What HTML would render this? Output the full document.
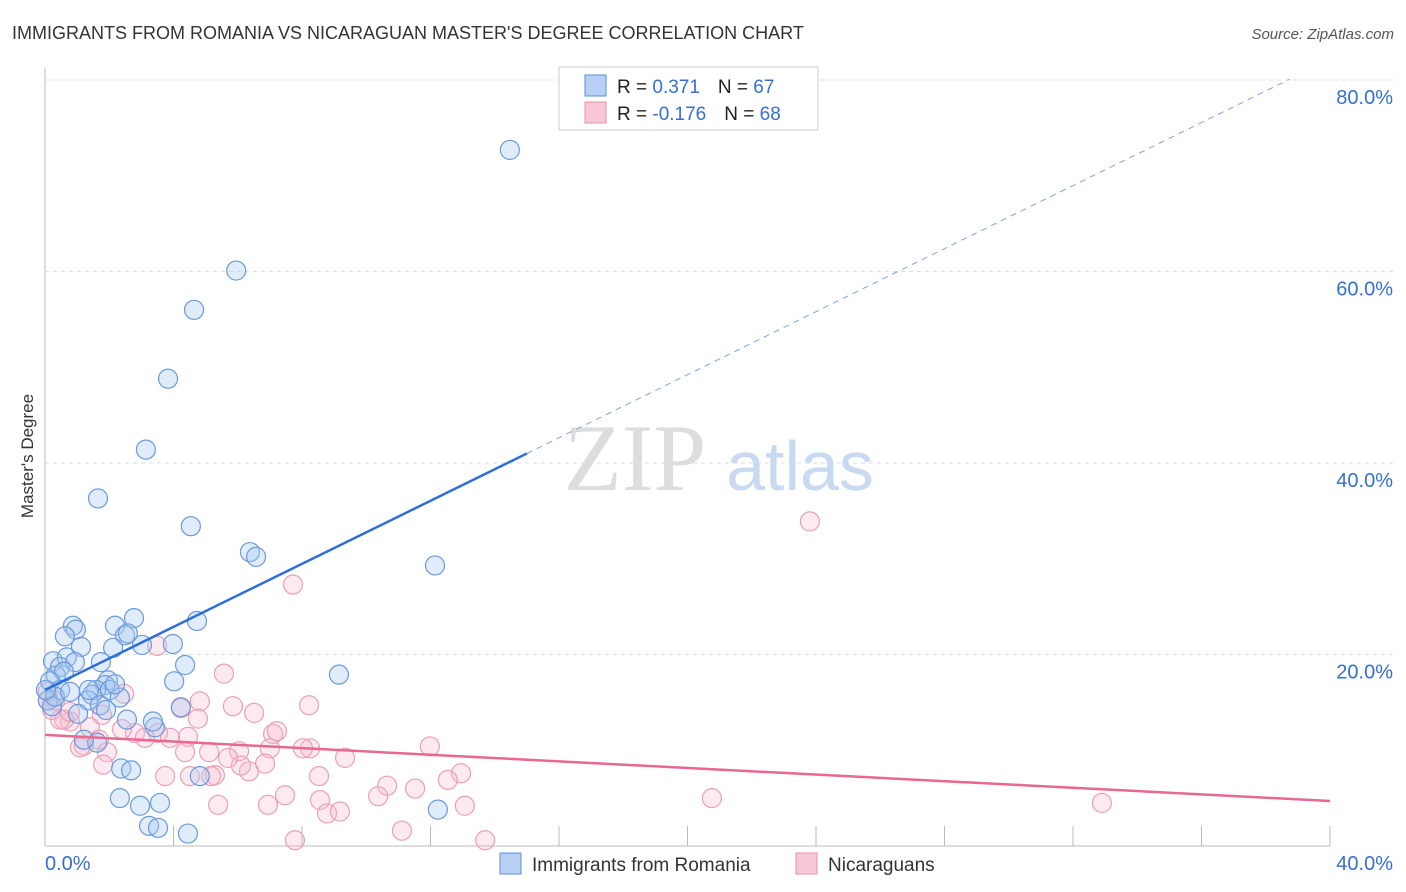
<!DOCTYPE html>
<html><head><meta charset="utf-8"><style>
body{margin:0;background:#fff;font-family:"Liberation Sans",sans-serif;}
svg{display:block}
</style></head><body>
<svg id="chart" width="1406" height="892" font-family="Liberation Sans, sans-serif">
<text x="12" y="39" font-size="18" fill="#333">IMMIGRANTS FROM ROMANIA VS NICARAGUAN MASTER'S DEGREE CORRELATION CHART</text>
<text x="1394" y="39" font-size="15" fill="#555" text-anchor="end" font-style="italic">Source: ZipAtlas.com</text>
<text transform="translate(33,456) rotate(-90)" font-size="17" fill="#333" text-anchor="middle">Master's Degree</text>
<g id="grid"></g>
<g><text x="635" y="490" font-size="95" fill="#ddd" text-anchor="middle" font-family="Liberation Serif, serif">ZIP</text><text x="800" y="490" font-size="70" fill="#c8daf2" text-anchor="middle">atlas</text></g>
<g id="pts"></g>
<g id="lines"></g>
<g>
<rect x="559" y="67" width="259" height="63" fill="#fff" stroke="#ccc"/>
<rect x="585" y="75" width="21" height="21" fill="#b7d0f3" stroke="#5b8fd8"/>
<rect x="585" y="102" width="21" height="21" fill="#f9c8d6" stroke="#e890a8"/>
<text x="617" y="93" font-size="19" fill="#222">R = <tspan fill="#3570d0"> 0.371</tspan><tspan dx="18">N = </tspan><tspan fill="#3570d0">67</tspan></text>
<text x="617" y="120" font-size="19" fill="#222">R = <tspan fill="#3570d0">-0.176</tspan><tspan dx="18">N = </tspan><tspan fill="#3570d0">68</tspan></text>
</g>
<g>
<rect x="500" y="853" width="21" height="21" fill="#b7d0f3" stroke="#5b8fd8"/>
<text x="532" y="871" font-size="19" fill="#333">Immigrants from Romania</text>
<rect x="796" y="853" width="21" height="21" fill="#f9c8d6" stroke="#e890a8"/>
<text x="828" y="871" font-size="19" fill="#333">Nicaraguans</text>
</g>
</svg>
<script>
const blueX=[14.47,5.95,4.64,3.83,3.14,1.65,4.54,6.38,6.57,12.14,4.73,2.77,2.18,0.87,0.96,0.62,2.49,2.58,1.12,2.12,3.98,3.02,4.36,1.74,0.25,0.68,0.47,0.93,9.15,4.02,1.96,1.87,1.59,0.34,0.59,0.16,0.47,1.46,1.34,2.02,2.33,1.71,1.90,4.23,1.03,0.09,0.22,2.55,3.42,1.62,1.21,2.37,2.68,2.33,2.96,3.58,12.23,3.24,3.52,4.45,4.82,0.31,0.78,0.03,1.37,3.36,2.18];
const blueY=[72.7,60.1,56.0,48.8,41.4,36.3,33.4,30.7,30.2,29.3,23.5,23.8,23.0,23.0,22.6,21.9,22.0,22.2,20.8,20.7,21.1,21.0,18.9,19.2,19.3,19.7,18.7,19.2,17.9,17.2,17.3,16.8,16.3,17.8,18.2,17.2,16.3,15.8,15.2,16.3,15.5,14.7,14.2,14.5,13.8,15.2,14.6,13.2,12.4,10.8,11.1,8.1,7.9,5.0,4.2,4.5,3.8,2.1,1.9,1.3,7.3,15.6,16.1,16.3,16.3,13.0,16.9];
const pinkX=[23.81,7.72,3.49,5.57,4.82,2.46,5.85,6.51,8.22,4.76,4.23,0.78,0.09,0.31,0.59,1.40,1.77,2.80,3.11,3.52,3.89,4.45,4.36,5.11,6.04,7.10,7.22,7.00,8.25,8.03,9.34,11.98,12.95,12.54,10.65,10.37,11.52,8.53,6.85,6.35,6.10,5.70,5.29,5.17,4.51,3.74,1.93,1.68,1.21,1.81,1.09,0.47,0.22,0.78,5.39,6.94,7.47,8.56,8.78,9.18,13.07,11.11,7.78,13.70,20.76,32.90,0.09,2.40];
const pinkY=[33.9,27.3,20.9,18.0,15.1,15.9,14.6,13.9,14.7,13.3,14.4,13.0,16.1,15.2,13.2,12.4,13.7,11.8,11.3,11.8,11.3,11.4,9.8,9.8,9.9,11.7,12.0,10.2,10.2,10.2,9.2,10.4,7.6,6.9,6.3,5.2,6.0,7.3,8.6,7.8,8.4,9.2,7.4,7.3,7.3,7.3,9.8,11.1,10.5,8.5,10.3,13.2,14.2,14.0,4.3,4.3,5.3,4.8,3.4,3.6,4.2,1.6,0.6,0.6,5.0,4.5,15.2,12.2];
const yTicks=[20,40,60,80];
const yTickLabels=["20.0%","40.0%","60.0%","80.0%"];
const xTicks=[0,4,8,12,16,20,24,28,32,36,40];
const blueTrend=[16.3,1.646];
const pinkTrend=[11.6,-0.1725];
const NS="http://www.w3.org/2000/svg";
const sx=v=>45+v*32.125, sy=v=>846-v*9.575;
function mk(t,a,p){const e=document.createElementNS(NS,t);for(const k in a)e.setAttribute(k,a[k]);p.appendChild(e);return e;}
const grid=document.getElementById('grid');
mk('line',{x1:45,y1:68,x2:45,y2:846,stroke:'#bbb'},grid);
mk('line',{x1:45,y1:846,x2:1330,y2:846,stroke:'#bbb'},grid);
yTicks.forEach((v,i)=>{
  const l=mk('line',{x1:45,y1:sy(v),x2:1394,y2:sy(v),stroke:'#ddd','stroke-dasharray':'4,4'},grid);
  
  
  const t=mk('text',{x:1393,y:sy(v)+24,'font-size':20,fill:'#3570d0','text-anchor':'end'},grid);
  t.textContent=yTickLabels[i];
  
  
});
xTicks.forEach(v=>{
  const l=mk('line',{x1:sx(v),y1:826,x2:sx(v),y2:846,stroke:'#bbb'},grid);
  
  
});
let t=mk('text',{x:45,y:870,'font-size':20,fill:'#3570d0'},grid);t.textContent='0.0%';


t=mk('text',{x:1393,y:870,'font-size':20,fill:'#3570d0','text-anchor':'end'},grid);t.textContent='40.0%';


const pts=document.getElementById('pts');
pinkX.forEach((x,i)=>{const c=mk('circle',{cx:sx(x),cy:sy(pinkY[i]),r:9.5,fill:'rgba(248,185,205,0.3)',stroke:'#eb9fb6','stroke-width':1.2},pts);
  
  });
blueX.forEach((x,i)=>{const c=mk('circle',{cx:sx(x),cy:sy(blueY[i]),r:9.5,fill:'rgba(165,200,242,0.35)',stroke:'#6a9ade','stroke-width':1.2},pts);
  
  });
const lines=document.getElementById('lines');
const bf=x=>blueTrend[0]+blueTrend[1]*x, pf=x=>pinkTrend[0]+pinkTrend[1]*x;
let l=mk('line',{x1:sx(0),y1:sy(bf(0)),x2:sx(15),y2:sy(bf(15)),stroke:'#2d6fd8','stroke-width':2.5},lines);


l=mk('line',{x1:sx(15),y1:sy(bf(15)),x2:sx(38.75),y2:sy(bf(38.75)),stroke:'#7ea4e0','stroke-width':1,'stroke-dasharray':'6,5'},lines);


l=mk('line',{x1:sx(0),y1:sy(pf(0)),x2:sx(40),y2:sy(pf(40)),stroke:'#e8688f','stroke-width':2.5},lines);


</script>
</body></html>
